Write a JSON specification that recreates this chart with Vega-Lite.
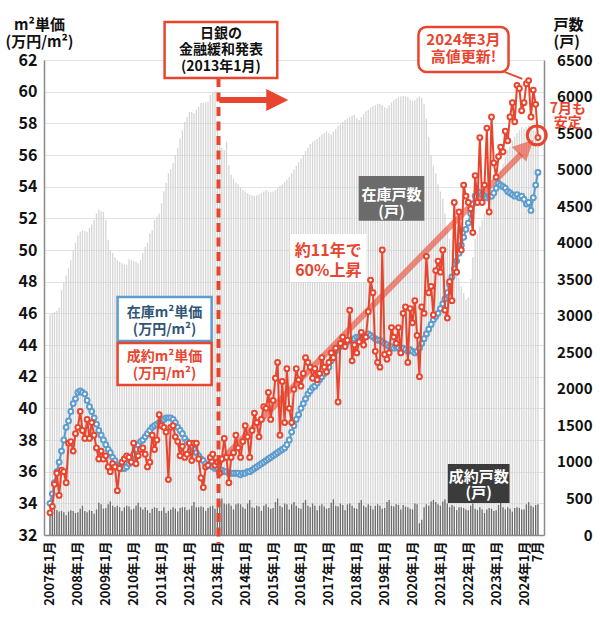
{
"$schema":"https://vega.github.io/schema/vega-lite/v6.json",
"width":500,"height":475,
"autosize":{"type":"none"},
"padding":{"left":44,"top":60,"right":56,"bottom":91},
"background":"white",
"config":{"view":{"stroke":null},"font":"Noto Sans CJK JP","axis":{"labelOverlap":false}},
"datasets":{"main":[
{"d":"2007-01-01","inv":3020,"con":300,"zp":34.0,"sp":33.4},
{"d":"2007-02-01","inv":3040,"con":330,"zp":34.6,"sp":33.8},
{"d":"2007-03-01","inv":3050,"con":380,"zp":35.3,"sp":35.2},
{"d":"2007-04-01","inv":3070,"con":340,"zp":36.0,"sp":35.9},
{"d":"2007-05-01","inv":3110,"con":320,"zp":36.6,"sp":34.5},
{"d":"2007-06-01","inv":3350,"con":330,"zp":37.3,"sp":36.1},
{"d":"2007-07-01","inv":3450,"con":310,"zp":38.0,"sp":36.0},
{"d":"2007-08-01","inv":3550,"con":270,"zp":38.8,"sp":35.3},
{"d":"2007-09-01","inv":3650,"con":320,"zp":39.2,"sp":37.8},
{"d":"2007-10-01","inv":3760,"con":340,"zp":39.8,"sp":37.9},
{"d":"2007-11-01","inv":3900,"con":330,"zp":40.3,"sp":37.3},
{"d":"2007-12-01","inv":4000,"con":300,"zp":40.6,"sp":38.4},
{"d":"2008-01-01","inv":4100,"con":310,"zp":41.0,"sp":38.8},
{"d":"2008-02-01","inv":4150,"con":360,"zp":41.1,"sp":39.8},
{"d":"2008-03-01","inv":4170,"con":400,"zp":41.0,"sp":38.6},
{"d":"2008-04-01","inv":4160,"con":330,"zp":40.9,"sp":38.1},
{"d":"2008-05-01","inv":4150,"con":310,"zp":40.5,"sp":39.3},
{"d":"2008-06-01","inv":4200,"con":340,"zp":40.1,"sp":38.1},
{"d":"2008-07-01","inv":4250,"con":330,"zp":39.8,"sp":39.1},
{"d":"2008-08-01","inv":4310,"con":290,"zp":39.4,"sp":38.3},
{"d":"2008-09-01","inv":4400,"con":350,"zp":39.0,"sp":37.5},
{"d":"2008-10-01","inv":4450,"con":440,"zp":38.6,"sp":36.8},
{"d":"2008-11-01","inv":4430,"con":420,"zp":38.3,"sp":37.3},
{"d":"2008-12-01","inv":4420,"con":360,"zp":38.0,"sp":36.8},
{"d":"2009-01-01","inv":4310,"con":370,"zp":37.7,"sp":37.0},
{"d":"2009-02-01","inv":4040,"con":420,"zp":37.4,"sp":36.3},
{"d":"2009-03-01","inv":3900,"con":460,"zp":37.2,"sp":36.0},
{"d":"2009-04-01","inv":3860,"con":400,"zp":36.9,"sp":36.5},
{"d":"2009-05-01","inv":3800,"con":380,"zp":36.7,"sp":36.3},
{"d":"2009-06-01","inv":3760,"con":400,"zp":36.4,"sp":34.8},
{"d":"2009-07-01","inv":3740,"con":380,"zp":36.3,"sp":36.2},
{"d":"2009-08-01","inv":3720,"con":330,"zp":36.2,"sp":36.6},
{"d":"2009-09-01","inv":3700,"con":380,"zp":36.2,"sp":36.8},
{"d":"2009-10-01","inv":3690,"con":400,"zp":36.3,"sp":37.0},
{"d":"2009-11-01","inv":3780,"con":390,"zp":36.5,"sp":36.9},
{"d":"2009-12-01","inv":3760,"con":350,"zp":36.8,"sp":36.6},
{"d":"2010-01-01","inv":3750,"con":360,"zp":37.1,"sp":37.8},
{"d":"2010-02-01","inv":3740,"con":400,"zp":37.4,"sp":36.5},
{"d":"2010-03-01","inv":3720,"con":440,"zp":37.7,"sp":37.0},
{"d":"2010-04-01","inv":3760,"con":380,"zp":37.9,"sp":37.4},
{"d":"2010-05-01","inv":3860,"con":350,"zp":38.0,"sp":37.5},
{"d":"2010-06-01","inv":3940,"con":380,"zp":38.2,"sp":37.1},
{"d":"2010-07-01","inv":4000,"con":340,"zp":38.4,"sp":36.3},
{"d":"2010-08-01","inv":4130,"con":300,"zp":38.6,"sp":36.6},
{"d":"2010-09-01","inv":4170,"con":360,"zp":38.8,"sp":38.3},
{"d":"2010-10-01","inv":4310,"con":380,"zp":38.9,"sp":37.4},
{"d":"2010-11-01","inv":4360,"con":370,"zp":39.0,"sp":38.0},
{"d":"2010-12-01","inv":4400,"con":330,"zp":39.1,"sp":39.6},
{"d":"2011-01-01","inv":4540,"con":330,"zp":39.1,"sp":38.9},
{"d":"2011-02-01","inv":4700,"con":380,"zp":39.3,"sp":38.8},
{"d":"2011-03-01","inv":4820,"con":300,"zp":39.4,"sp":38.5},
{"d":"2011-04-01","inv":4950,"con":330,"zp":39.4,"sp":35.5},
{"d":"2011-05-01","inv":5000,"con":350,"zp":39.4,"sp":38.8},
{"d":"2011-06-01","inv":5090,"con":380,"zp":39.3,"sp":38.9},
{"d":"2011-07-01","inv":5200,"con":360,"zp":39.1,"sp":38.2},
{"d":"2011-08-01","inv":5300,"con":320,"zp":38.8,"sp":37.9},
{"d":"2011-09-01","inv":5430,"con":370,"zp":38.6,"sp":37.0},
{"d":"2011-10-01","inv":5540,"con":380,"zp":38.4,"sp":37.6},
{"d":"2011-11-01","inv":5650,"con":380,"zp":38.1,"sp":36.9},
{"d":"2011-12-01","inv":5720,"con":340,"zp":37.9,"sp":37.1},
{"d":"2012-01-01","inv":5790,"con":350,"zp":37.8,"sp":37.8},
{"d":"2012-02-01","inv":5790,"con":400,"zp":37.6,"sp":36.7},
{"d":"2012-03-01","inv":5770,"con":450,"zp":37.4,"sp":37.8},
{"d":"2012-04-01","inv":5820,"con":380,"zp":37.2,"sp":37.8},
{"d":"2012-05-01","inv":5860,"con":380,"zp":37.0,"sp":36.8},
{"d":"2012-06-01","inv":5910,"con":390,"zp":36.8,"sp":35.6},
{"d":"2012-07-01","inv":5910,"con":380,"zp":36.7,"sp":35.0},
{"d":"2012-08-01","inv":5920,"con":330,"zp":36.5,"sp":36.3},
{"d":"2012-09-01","inv":5930,"con":370,"zp":36.4,"sp":36.4},
{"d":"2012-10-01","inv":6020,"con":390,"zp":36.4,"sp":36.9},
{"d":"2012-11-01","inv":6050,"con":400,"zp":36.3,"sp":37.1},
{"d":"2012-12-01","inv":6080,"con":360,"zp":36.2,"sp":36.4},
{"d":"2013-01-01","inv":5640,"con":380,"zp":36.2,"sp":36.6},
{"d":"2013-02-01","inv":5340,"con":470,"zp":36.1,"sp":35.9},
{"d":"2013-03-01","inv":5300,"con":500,"zp":36.1,"sp":36.8},
{"d":"2013-04-01","inv":5270,"con":430,"zp":36.0,"sp":38.1},
{"d":"2013-05-01","inv":5380,"con":420,"zp":36.0,"sp":36.9},
{"d":"2013-06-01","inv":5060,"con":430,"zp":35.9,"sp":35.3},
{"d":"2013-07-01","inv":4930,"con":400,"zp":35.9,"sp":36.9},
{"d":"2013-08-01","inv":4880,"con":350,"zp":35.9,"sp":37.2},
{"d":"2013-09-01","inv":4820,"con":420,"zp":35.9,"sp":38.3},
{"d":"2013-10-01","inv":4800,"con":430,"zp":35.9,"sp":37.5},
{"d":"2013-11-01","inv":4760,"con":420,"zp":35.8,"sp":36.9},
{"d":"2013-12-01","inv":4720,"con":380,"zp":35.9,"sp":37.9},
{"d":"2014-01-01","inv":4700,"con":360,"zp":35.9,"sp":38.9},
{"d":"2014-02-01","inv":4680,"con":430,"zp":36.0,"sp":38.2},
{"d":"2014-03-01","inv":4660,"con":480,"zp":36.0,"sp":36.9},
{"d":"2014-04-01","inv":4650,"con":380,"zp":36.1,"sp":38.6},
{"d":"2014-05-01","inv":4640,"con":370,"zp":36.2,"sp":39.7},
{"d":"2014-06-01","inv":4650,"con":400,"zp":36.3,"sp":39.1},
{"d":"2014-07-01","inv":4660,"con":390,"zp":36.4,"sp":38.2},
{"d":"2014-08-01","inv":4680,"con":330,"zp":36.5,"sp":39.3},
{"d":"2014-09-01","inv":4700,"con":400,"zp":36.6,"sp":40.1},
{"d":"2014-10-01","inv":4720,"con":420,"zp":36.7,"sp":40.0},
{"d":"2014-11-01","inv":4700,"con":380,"zp":36.8,"sp":41.0},
{"d":"2014-12-01","inv":4690,"con":360,"zp":36.9,"sp":39.3},
{"d":"2015-01-01","inv":4700,"con":370,"zp":37.0,"sp":40.5},
{"d":"2015-02-01","inv":4720,"con":450,"zp":37.1,"sp":41.9},
{"d":"2015-03-01","inv":4750,"con":500,"zp":37.2,"sp":42.9},
{"d":"2015-04-01","inv":4780,"con":400,"zp":37.3,"sp":38.3},
{"d":"2015-05-01","inv":4800,"con":380,"zp":37.4,"sp":41.7},
{"d":"2015-06-01","inv":4830,"con":430,"zp":37.5,"sp":39.1},
{"d":"2015-07-01","inv":4860,"con":420,"zp":37.7,"sp":42.5},
{"d":"2015-08-01","inv":4900,"con":350,"zp":38.0,"sp":40.0},
{"d":"2015-09-01","inv":4950,"con":420,"zp":38.5,"sp":39.1},
{"d":"2015-10-01","inv":5000,"con":450,"zp":38.9,"sp":41.2},
{"d":"2015-11-01","inv":5050,"con":400,"zp":39.3,"sp":42.5},
{"d":"2015-12-01","inv":5100,"con":370,"zp":39.6,"sp":41.8},
{"d":"2016-01-01","inv":5150,"con":360,"zp":40.0,"sp":41.4},
{"d":"2016-02-01","inv":5200,"con":440,"zp":40.3,"sp":42.2},
{"d":"2016-03-01","inv":5250,"con":480,"zp":40.6,"sp":43.2},
{"d":"2016-04-01","inv":5300,"con":400,"zp":40.9,"sp":42.9},
{"d":"2016-05-01","inv":5350,"con":380,"zp":41.1,"sp":42.6},
{"d":"2016-06-01","inv":5380,"con":430,"zp":41.3,"sp":41.9},
{"d":"2016-07-01","inv":5400,"con":400,"zp":41.4,"sp":42.5},
{"d":"2016-08-01","inv":5420,"con":340,"zp":41.6,"sp":41.8},
{"d":"2016-09-01","inv":5450,"con":400,"zp":41.8,"sp":42.2},
{"d":"2016-10-01","inv":5480,"con":420,"zp":42.0,"sp":43.2},
{"d":"2016-11-01","inv":5500,"con":390,"zp":42.2,"sp":42.6},
{"d":"2016-12-01","inv":5520,"con":360,"zp":42.4,"sp":42.3},
{"d":"2017-01-01","inv":5500,"con":370,"zp":42.6,"sp":42.9},
{"d":"2017-02-01","inv":5480,"con":440,"zp":43.0,"sp":43.5},
{"d":"2017-03-01","inv":5520,"con":490,"zp":43.3,"sp":43.2},
{"d":"2017-04-01","inv":5560,"con":400,"zp":43.6,"sp":43.8},
{"d":"2017-05-01","inv":5600,"con":390,"zp":43.8,"sp":40.4},
{"d":"2017-06-01","inv":5620,"con":430,"zp":43.9,"sp":44.1},
{"d":"2017-07-01","inv":5650,"con":410,"zp":44.0,"sp":44.5},
{"d":"2017-08-01","inv":5680,"con":340,"zp":44.0,"sp":43.9},
{"d":"2017-09-01","inv":5700,"con":420,"zp":44.2,"sp":44.3},
{"d":"2017-10-01","inv":5720,"con":430,"zp":44.3,"sp":46.2},
{"d":"2017-11-01","inv":5740,"con":400,"zp":44.3,"sp":43.0},
{"d":"2017-12-01","inv":5750,"con":370,"zp":44.4,"sp":44.0},
{"d":"2018-01-01","inv":5700,"con":360,"zp":44.5,"sp":43.5},
{"d":"2018-02-01","inv":5680,"con":440,"zp":44.5,"sp":44.2},
{"d":"2018-03-01","inv":5720,"con":480,"zp":44.5,"sp":44.8},
{"d":"2018-04-01","inv":5760,"con":400,"zp":44.6,"sp":44.0},
{"d":"2018-05-01","inv":5800,"con":380,"zp":44.6,"sp":44.5},
{"d":"2018-06-01","inv":5820,"con":420,"zp":44.7,"sp":46.1},
{"d":"2018-07-01","inv":5850,"con":400,"zp":44.6,"sp":48.1},
{"d":"2018-08-01","inv":5870,"con":350,"zp":44.5,"sp":47.3},
{"d":"2018-09-01","inv":5880,"con":400,"zp":44.4,"sp":43.6},
{"d":"2018-10-01","inv":5900,"con":420,"zp":44.3,"sp":42.9},
{"d":"2018-11-01","inv":5900,"con":400,"zp":44.3,"sp":42.6},
{"d":"2018-12-01","inv":5880,"con":360,"zp":44.2,"sp":50.0},
{"d":"2019-01-01","inv":5850,"con":370,"zp":44.1,"sp":43.4},
{"d":"2019-02-01","inv":5840,"con":450,"zp":44.0,"sp":43.1},
{"d":"2019-03-01","inv":5880,"con":480,"zp":43.9,"sp":43.5},
{"d":"2019-04-01","inv":5920,"con":400,"zp":43.9,"sp":45.1},
{"d":"2019-05-01","inv":5950,"con":390,"zp":43.8,"sp":44.5},
{"d":"2019-06-01","inv":5970,"con":420,"zp":43.9,"sp":44.1},
{"d":"2019-07-01","inv":5990,"con":410,"zp":43.8,"sp":45.1},
{"d":"2019-08-01","inv":6000,"con":350,"zp":43.7,"sp":43.5},
{"d":"2019-09-01","inv":6010,"con":410,"zp":43.8,"sp":46.0},
{"d":"2019-10-01","inv":6000,"con":390,"zp":43.7,"sp":46.4},
{"d":"2019-11-01","inv":5990,"con":380,"zp":43.6,"sp":42.9},
{"d":"2019-12-01","inv":5960,"con":360,"zp":43.7,"sp":46.3},
{"d":"2020-01-01","inv":5940,"con":350,"zp":43.6,"sp":45.4},
{"d":"2020-02-01","inv":5950,"con":430,"zp":43.5,"sp":46.8},
{"d":"2020-03-01","inv":5980,"con":420,"zp":43.6,"sp":44.6},
{"d":"2020-04-01","inv":6000,"con":160,"zp":43.8,"sp":42.0},
{"d":"2020-05-01","inv":5980,"con":210,"zp":44.1,"sp":46.4},
{"d":"2020-06-01","inv":5900,"con":380,"zp":44.4,"sp":46.0},
{"d":"2020-07-01","inv":5700,"con":420,"zp":44.7,"sp":49.6},
{"d":"2020-08-01","inv":5450,"con":400,"zp":45.0,"sp":47.3},
{"d":"2020-09-01","inv":5200,"con":460,"zp":45.3,"sp":47.7},
{"d":"2020-10-01","inv":5050,"con":480,"zp":45.6,"sp":45.9},
{"d":"2020-11-01","inv":4950,"con":450,"zp":45.8,"sp":48.7},
{"d":"2020-12-01","inv":4800,"con":420,"zp":46.0,"sp":49.3},
{"d":"2021-01-01","inv":4700,"con":400,"zp":46.3,"sp":48.6},
{"d":"2021-02-01","inv":4600,"con":460,"zp":46.6,"sp":50.0},
{"d":"2021-03-01","inv":4400,"con":490,"zp":46.9,"sp":46.2},
{"d":"2021-04-01","inv":4200,"con":430,"zp":47.3,"sp":45.7},
{"d":"2021-05-01","inv":4050,"con":380,"zp":47.8,"sp":48.0},
{"d":"2021-06-01","inv":3900,"con":410,"zp":48.3,"sp":46.8},
{"d":"2021-07-01","inv":3750,"con":390,"zp":48.8,"sp":53.0},
{"d":"2021-08-01","inv":3620,"con":340,"zp":49.3,"sp":48.6},
{"d":"2021-09-01","inv":3520,"con":380,"zp":49.8,"sp":52.4},
{"d":"2021-10-01","inv":3400,"con":380,"zp":50.3,"sp":50.0},
{"d":"2021-11-01","inv":3310,"con":370,"zp":50.8,"sp":54.1},
{"d":"2021-12-01","inv":3220,"con":350,"zp":51.3,"sp":53.4},
{"d":"2022-01-01","inv":3250,"con":340,"zp":51.7,"sp":53.0},
{"d":"2022-02-01","inv":3500,"con":400,"zp":52.3,"sp":52.6},
{"d":"2022-03-01","inv":3800,"con":430,"zp":52.9,"sp":51.1},
{"d":"2022-04-01","inv":4050,"con":360,"zp":53.4,"sp":54.7},
{"d":"2022-05-01","inv":4130,"con":340,"zp":53.7,"sp":53.0},
{"d":"2022-06-01","inv":4220,"con":380,"zp":53.6,"sp":57.1},
{"d":"2022-07-01","inv":4310,"con":350,"zp":53.5,"sp":53.0},
{"d":"2022-08-01","inv":4400,"con":300,"zp":53.4,"sp":54.1},
{"d":"2022-09-01","inv":4490,"con":350,"zp":53.3,"sp":57.7},
{"d":"2022-10-01","inv":4580,"con":370,"zp":53.4,"sp":52.4},
{"d":"2022-11-01","inv":4680,"con":360,"zp":53.4,"sp":58.4},
{"d":"2022-12-01","inv":4720,"con":330,"zp":53.6,"sp":55.5},
{"d":"2023-01-01","inv":4760,"con":340,"zp":53.9,"sp":54.6},
{"d":"2023-02-01","inv":4850,"con":410,"zp":54.2,"sp":55.9},
{"d":"2023-03-01","inv":4990,"con":440,"zp":54.1,"sp":56.5},
{"d":"2023-04-01","inv":5080,"con":380,"zp":54.0,"sp":56.2},
{"d":"2023-05-01","inv":5180,"con":350,"zp":53.9,"sp":57.5},
{"d":"2023-06-01","inv":5270,"con":380,"zp":53.7,"sp":56.9},
{"d":"2023-07-01","inv":5320,"con":360,"zp":53.6,"sp":58.4},
{"d":"2023-08-01","inv":5400,"con":320,"zp":53.5,"sp":59.3},
{"d":"2023-09-01","inv":5450,"con":370,"zp":53.4,"sp":58.1},
{"d":"2023-10-01","inv":5500,"con":380,"zp":53.5,"sp":60.4},
{"d":"2023-11-01","inv":5540,"con":370,"zp":53.3,"sp":60.2},
{"d":"2023-12-01","inv":5580,"con":350,"zp":53.4,"sp":58.8},
{"d":"2024-01-01","inv":5560,"con":350,"zp":53.2,"sp":59.3},
{"d":"2024-02-01","inv":5580,"con":420,"zp":52.9,"sp":60.5},
{"d":"2024-03-01","inv":5600,"con":450,"zp":53.0,"sp":60.7},
{"d":"2024-04-01","inv":5580,"con":400,"zp":52.5,"sp":58.4},
{"d":"2024-05-01","inv":5550,"con":380,"zp":53.3,"sp":60.1},
{"d":"2024-06-01","inv":5520,"con":410,"zp":54.1,"sp":59.2},
{"d":"2024-07-01","inv":5500,"con":420,"zp":54.9,"sp":57.1}
]},
"layer":[
{"data":{"name":"main"},
 "layer":[
  {"mark":{"type":"bar","width":1.3,"color":"#d6d6d6"},
   "encoding":{
    "x":{"field":"d","type":"temporal","scale":{"type":"utc","nice":false,"domain":[{"year":2006,"month":12,"date":19,"utc":true},{"year":2024,"month":7,"date":15,"utc":true}]},
     "axis":{"orient":"bottom","title":null,"grid":false,"ticks":false,"tickCount":40,"domainColor":"#8a8a8a","domainWidth":1.5,"labelAngle":-90,"labelFontSize":13,"labelFontWeight":"bold","labelColor":"#111","labelPadding":6,"labelOverlap":false,"labelFlush":false,"labelBound":false,
      "values":[{"year":2007,"month":1,"date":1,"utc":true},{"year":2008,"month":1,"date":1,"utc":true},{"year":2009,"month":1,"date":1,"utc":true},{"year":2010,"month":1,"date":1,"utc":true},{"year":2011,"month":1,"date":1,"utc":true},{"year":2012,"month":1,"date":1,"utc":true},{"year":2013,"month":1,"date":1,"utc":true},{"year":2014,"month":1,"date":1,"utc":true},{"year":2015,"month":1,"date":1,"utc":true},{"year":2016,"month":1,"date":1,"utc":true},{"year":2017,"month":1,"date":1,"utc":true},{"year":2018,"month":1,"date":1,"utc":true},{"year":2019,"month":1,"date":1,"utc":true},{"year":2020,"month":1,"date":1,"utc":true},{"year":2021,"month":1,"date":1,"utc":true},{"year":2022,"month":1,"date":1,"utc":true},{"year":2023,"month":1,"date":1,"utc":true},{"year":2024,"month":1,"date":1,"utc":true},{"year":2024,"month":7,"date":1,"utc":true}],
      "labelExpr":"utcmonth(datum.value) == 6 ? '7月' : utcyear(datum.value) + '年1月'"}},
    "y":{"field":"inv","type":"quantitative","scale":{"domain":[0,6500],"nice":false},
     "axis":{"orient":"right","values":[0,500,1000,1500,2000,2500,3000,3500,4000,4500,5000,5500,6000,6500],"tickCount":40,"format":"d","grid":false,"ticks":false,"domainColor":"#8a8a8a","domainWidth":1.5,"labelFontSize":15,"labelFontWeight":"bold","labelColor":"#111","labelAlign":"right","labelPadding":48,"labelOverlap":false,
      "title":["戸数","(戸)"],"titleAngle":0,"titleAlign":"left","titleBaseline":"bottom","titleX":9,"titleY":-28,"titleFontSize":15,"titleFontWeight":"bold","titleColor":"#111","titleLineHeight":17}}}},
  {"mark":{"type":"bar","width":1.3,"color":"#6a6a6a"},
   "encoding":{
    "x":{"field":"d","type":"temporal"},
    "y":{"field":"con","type":"quantitative"}}}
 ]},
{"layer":[
  {"data":{"values":[{"d":"2012-12-21","p":36.42},{"d":"2023-11-26","p":56.07}]},
   "mark":{"type":"line","color":"#e8452f","opacity":0.6,"strokeWidth":6,"strokeCap":"butt"},
   "encoding":{"x":{"field":"d","type":"temporal"},
    "y":{"field":"p","type":"quantitative","scale":{"domain":[32,62],"nice":false,"zero":false}}}},
  {"data":{"values":[{"d":"2024-01-29","p":56.51}]},
   "mark":{"type":"point","shape":"M-1,-1L1,0L-1,1Z","size":420,"angle":-45,"filled":true,"color":"#e8452f","opacity":0.6,"strokeWidth":0},
   "encoding":{"x":{"field":"d","type":"temporal"},"y":{"field":"p","type":"quantitative"}}},
  {"data":{"name":"main"},
   "mark":{"type":"line","color":"#5d9ccd","strokeWidth":2,"point":{"filled":false,"fill":"white","size":24,"strokeWidth":2,"color":"#5d9ccd"}},
   "encoding":{"x":{"field":"d","type":"temporal"},
    "y":{"field":"zp","type":"quantitative",
     "axis":{"orient":"left","values":[32,34,36,38,40,42,44,46,48,50,52,54,56,58,60,62],"tickCount":40,"grid":true,"gridColor":"#e2e2e2","gridWidth":1,"ticks":false,"domainColor":"#8a8a8a","domainWidth":1.5,"labelFontSize":16,"labelFontWeight":"bold","labelColor":"#111","labelPadding":7,"labelOverlap":false,
      "title":["m²単価","(万円/m²)"],"titleAngle":0,"titleAlign":"center","titleBaseline":"bottom","titleX":-5,"titleY":-28,"titleFontSize":15,"titleFontWeight":"bold","titleColor":"#111","titleLineHeight":17}}}},
  {"data":{"name":"main"},
   "mark":{"type":"line","color":"#e8452f","strokeWidth":2,"point":{"filled":false,"fill":"white","size":24,"strokeWidth":2,"color":"#e8452f"}},
   "encoding":{"x":{"field":"d","type":"temporal"},"y":{"field":"sp","type":"quantitative"}}},
  {"data":{"values":[{"d":"2011-02-10","d2":"2015-02-25","p":64.4,"p2":60.87}]},
   "mark":{"type":"rect","fill":"white","stroke":"#e8452f","strokeWidth":2.5},
   "encoding":{"x":{"field":"d","type":"temporal"},"x2":{"field":"d2"},"y":{"field":"p","type":"quantitative"},"y2":{"field":"p2"}}},
  {"data":{"values":[{"d":"2013-02-17","p":63.65,"t":"日銀の\n金融緩和発表\n(2013年1月)"}]},
   "mark":{"type":"text","lineBreak":"\n","fontSize":14,"fontWeight":"bold","color":"#111","align":"center","baseline":"middle","lineHeight":16.5},
   "encoding":{"x":{"field":"d","type":"temporal"},"y":{"field":"p","type":"quantitative"},"text":{"field":"t"}}},
  {"data":{"values":[{"d":"2013-01-16","p":60.87,"p2":31.45}]},
   "mark":{"type":"rule","color":"#e8452f","strokeWidth":4,"strokeDash":[9,5.5]},
   "encoding":{"x":{"field":"d","type":"temporal"},"y":{"field":"p","type":"quantitative"},"y2":{"field":"p2"}}},
  {"data":{"values":[{"d":"2013-01-29","d2":"2014-11-05","p":59.48}]},
   "mark":{"type":"rule","color":"#e8452f","strokeWidth":6},
   "encoding":{"x":{"field":"d","type":"temporal"},"x2":{"field":"d2"},"y":{"field":"p","type":"quantitative"}}},
  {"data":{"values":[{"d":"2015-02-25","p":59.48}]},
   "mark":{"type":"point","shape":"M-1,-1L1,0L-1,1Z","size":484,"filled":true,"color":"#e8452f","strokeWidth":0,"opacity":1},
   "encoding":{"x":{"field":"d","type":"temporal"},"y":{"field":"p","type":"quantitative"}}},
  {"data":{"values":[{"d":"2015-08-11","d2":"2018-05-08","p":51.01,"p2":47.98}]},
   "mark":{"type":"rect","fill":"white"},
   "encoding":{"x":{"field":"d","type":"temporal"},"x2":{"field":"d2"},"y":{"field":"p","type":"quantitative"},"y2":{"field":"p2"}}},
  {"data":{"values":[{"d":"2016-12-24","p":49.94,"t":"約11年で\n60%上昇"}]},
   "mark":{"type":"text","lineBreak":"\n","fontSize":16,"fontWeight":"bold","color":"#e8452f","align":"center","baseline":"middle","lineHeight":20},
   "encoding":{"x":{"field":"d","type":"temporal"},"y":{"field":"p","type":"quantitative"},"text":{"field":"t"}}},
  {"data":{"values":[{"d":"2018-01-26","d2":"2020-06-04","p":54.68,"p2":51.84}]},
   "mark":{"type":"rect","fill":"#6b6b6b"},
   "encoding":{"x":{"field":"d","type":"temporal"},"x2":{"field":"d2"},"y":{"field":"p","type":"quantitative"},"y2":{"field":"p2"}}},
  {"data":{"values":[{"d":"2019-03-31","p":53.48,"t":"在庫戸数\n(戸)"}]},
   "mark":{"type":"text","lineBreak":"\n","fontSize":15,"fontWeight":"bold","color":"white","align":"center","baseline":"middle","lineHeight":17},
   "encoding":{"x":{"field":"d","type":"temporal"},"y":{"field":"p","type":"quantitative"},"text":{"field":"t"}}},
  {"data":{"values":[{"d":"2021-04-08","d2":"2023-06-25","p":36.49,"p2":34.02}]},
   "mark":{"type":"rect","fill":"#3b3b3b"},
   "encoding":{"x":{"field":"d","type":"temporal"},"x2":{"field":"d2"},"y":{"field":"p","type":"quantitative"},"y2":{"field":"p2"}}},
  {"data":{"values":[{"d":"2022-05-17","p":35.66,"t":"成約戸数\n(戸)"}]},
   "mark":{"type":"text","lineBreak":"\n","fontSize":15,"fontWeight":"bold","color":"white","align":"center","baseline":"middle","lineHeight":16},
   "encoding":{"x":{"field":"d","type":"temporal"},"y":{"field":"p","type":"quantitative"},"text":{"field":"t"}}},
  {"data":{"values":[{"d":"2009-06-04","d2":"2012-10-18","p":47.03,"p2":44.26,"c":"b"},{"d":"2009-06-04","d2":"2012-10-18","p":44.13,"p2":41.47,"c":"r"}]},
   "mark":{"type":"rect","fill":"white","strokeWidth":2.5},
   "encoding":{"x":{"field":"d","type":"temporal"},"x2":{"field":"d2"},"y":{"field":"p","type":"quantitative"},"y2":{"field":"p2"},
    "stroke":{"field":"c","type":"nominal","scale":{"domain":["b","r"],"range":["#5d9ccd","#e8452f"]},"legend":null}}},
  {"data":{"values":[{"d":"2011-02-10","p":46.02,"t":"在庫m²単価\n(万円/m²)","c":"b"},{"d":"2011-02-10","p":43.24,"t":"成約m²単価\n(万円/m²)","c":"r"}]},
   "mark":{"type":"text","lineBreak":"\n","fontSize":14,"fontWeight":"bold","align":"center","baseline":"middle","lineHeight":17},
   "encoding":{"x":{"field":"d","type":"temporal"},"y":{"field":"p","type":"quantitative"},"text":{"field":"t"},
    "color":{"field":"c","type":"nominal","scale":{"domain":["b","r"],"range":["#2f5577","#e8452f"]},"legend":null}}},
  {"data":{"values":[{"d":"2023-04-21","d2":"2023-12-09","p":61.25,"p2":60.81}]},
   "mark":{"type":"rule","color":"#e8452f","strokeWidth":2},
   "encoding":{"x":{"field":"d","type":"temporal"},"x2":{"field":"d2"},"y":{"field":"p","type":"quantitative"},"y2":{"field":"p2"}}},
  {"data":{"values":[{"d":"2020-03-19","d2":"2023-06-12","p":64.09,"p2":61.25}]},
   "mark":{"type":"rect","fill":"white","stroke":"#e8452f","strokeWidth":2.5,"cornerRadius":8},
   "encoding":{"x":{"field":"d","type":"temporal"},"x2":{"field":"d2"},"y":{"field":"p","type":"quantitative"},"y2":{"field":"p2"}}},
  {"data":{"values":[{"d":"2021-10-30","p":63.27,"t":"2024年3月\n高値更新!"}]},
   "mark":{"type":"text","lineBreak":"\n","fontSize":15,"fontWeight":"bold","color":"#e8452f","align":"center","baseline":"middle","lineHeight":17},
   "encoding":{"x":{"field":"d","type":"temporal"},"y":{"field":"p","type":"quantitative"},"text":{"field":"t"}}},
  {"data":{"values":[{"d":"2025-07-28","p":58.9,"t":"7月も\n安定"}]},
   "mark":{"type":"text","lineBreak":"\n","fontSize":14,"fontWeight":"bold","color":"#e8452f","align":"center","baseline":"middle","lineHeight":14},
   "encoding":{"x":{"field":"d","type":"temporal"},"y":{"field":"p","type":"quantitative"},"text":{"field":"t"}}},
  {"data":{"values":[{"d":"2024-06-16","p":57.24}]},
   "mark":{"type":"point","shape":"circle","size":360,"filled":false,"stroke":"#e8452f","strokeWidth":3,"opacity":1},
   "encoding":{"x":{"field":"d","type":"temporal"},"y":{"field":"p","type":"quantitative"}}}
 ]}
],
"resolve":{"scale":{"y":"independent"},"axis":{"y":"independent"}}
}
